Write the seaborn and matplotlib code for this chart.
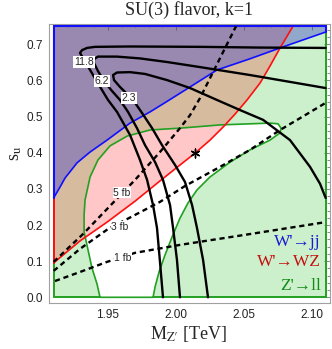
import numpy as np
import pandas as pd
import matplotlib
matplotlib.use("Agg")
import matplotlib.pyplot as plt
from matplotlib.ticker import MultipleLocator, FixedLocator, FixedFormatter
import seaborn as sns

# ---------------- data ----------------
X_MIN, X_MAX = 1.91, 2.11
S_MIN, S_MAX = 0.0, 0.75

# W' -> jj exclusion boundary (excluded above)
jj_x = [1.910, 1.9147, 1.9184, 1.9272, 1.9368, 1.9493, 1.9662, 1.9809, 1.9904,
        2.0103, 2.0301, 2.0544, 2.0765, 2.110]
jj_s = [0.275, 0.305, 0.330, 0.372, 0.402, 0.435, 0.482, 0.513, 0.535,
        0.582, 0.629, 0.660, 0.690, 0.734]

# W' -> WZ exclusion boundary (excluded to the upper left)
wz_x = [1.910, 1.9294, 1.9493, 1.9699, 1.9882, 2.0029, 2.0140, 2.0250, 2.0346,
        2.0434, 2.0522, 2.0618, 2.0691, 2.0765, 2.0860]
wz_s = [0.095, 0.156, 0.208, 0.266, 0.322, 0.366, 0.399, 0.435, 0.471,
        0.507, 0.546, 0.593, 0.640, 0.690, 0.750]

# Z' -> ll allowed island boundary (excluded outside)
ll_x = [1.9441, 1.9419, 1.9382, 1.9353, 1.9324, 1.9324, 1.9331, 1.9368, 1.9426,
        1.9515, 1.9640, 1.9809, 2.0029, 2.0324, 2.0544, 2.0691, 2.0750, 2.0772,
        2.0765, 2.0691, 2.0544, 2.0397, 2.0250, 2.0154, 2.0088, 2.0029, 1.9971,
        1.9919, 1.9875, 1.9846, 1.9831]
ll_s = [0.000, 0.037, 0.081, 0.131, 0.181, 0.228, 0.269, 0.333, 0.380,
        0.419, 0.446, 0.463, 0.468, 0.477, 0.480, 0.482, 0.480, 0.468,
        0.455, 0.435, 0.408, 0.374, 0.333, 0.297, 0.261, 0.219, 0.167,
        0.117, 0.070, 0.029, 0.000]

# chi^2 contours (solid black)
c118_x = [1.9904, 1.9882, 1.9860, 1.9831, 1.9787, 1.9735, 1.9662, 1.9566, 1.9500,
          1.9434, 1.9368, 1.9324, 1.9294, 1.9309, 1.9346, 1.9404, 1.9662, 2.0176,
          2.0618, 2.110]
c118_s = [0.000, 0.098, 0.192, 0.255, 0.325, 0.380, 0.449, 0.513, 0.546,
          0.587, 0.629, 0.657, 0.676, 0.684, 0.690, 0.693, 0.694, 0.693,
          0.691, 0.690]

c62_x = [2.0029, 2.0007, 1.9978, 1.9956, 1.9904, 1.9846, 1.9772, 1.9713, 1.9647,
         1.9588, 1.9529, 1.9471, 1.9426, 1.9397, 1.9397, 1.9426, 1.9566, 1.9735,
         1.9934, 2.0176, 2.0544, 2.0838, 2.110]
c62_s = [0.000, 0.103, 0.192, 0.255, 0.325, 0.374, 0.421, 0.468, 0.513,
         0.546, 0.571, 0.598, 0.626, 0.648, 0.659, 0.666, 0.666, 0.661,
         0.651, 0.637, 0.615, 0.596, 0.579]

c23_x = [2.0235, 2.0199, 2.0154, 2.0118, 2.0066, 1.9993, 1.9897, 1.9824, 1.9750,
         1.9699, 1.9647, 1.9588, 1.9544, 1.9537, 1.9566, 1.9662, 1.9772, 1.9934,
         2.0103, 2.0301, 2.0471, 2.0640, 2.0838, 2.0985, 2.1059, 2.110]
c23_s = [0.000, 0.103, 0.192, 0.255, 0.319, 0.366, 0.421, 0.468, 0.510,
         0.538, 0.560, 0.582, 0.601, 0.615, 0.622, 0.623, 0.618, 0.601,
         0.579, 0.546, 0.518, 0.491, 0.435, 0.361, 0.314, 0.275]

contour_labels = ["11.8", "6.2", "2.3"]
contour_label_x = [1.9324, 1.9456, 1.9654]
contour_label_s = [0.651, 0.598, 0.551]

# cross-section contours (dashed)
xs5_x = [1.910, 1.9316, 1.9515, 1.9699, 1.9882, 2.0029, 2.0103, 2.0176, 2.0272, 2.0353, 2.0441]
xs5_s = [0.098, 0.175, 0.253, 0.325, 0.402, 0.468, 0.504, 0.551, 0.623, 0.684, 0.750]
xs3_x = [1.910, 1.9294, 1.9500, 1.9699, 1.9882, 2.0066, 2.0324, 2.0544, 2.0765, 2.0949, 2.110]
xs3_s = [0.073, 0.134, 0.189, 0.228, 0.264, 0.308, 0.361, 0.408, 0.463, 0.504, 0.538]
xs1_x = [1.9110, 1.9294, 1.9493, 1.9699, 2.0029, 2.0544, 2.110]
xs1_s = [0.045, 0.070, 0.098, 0.123, 0.145, 0.175, 0.208]

xs_labels = ["5 fb", "3 fb", "1 fb"]
xs_label_x = [1.9603, 1.9588, 1.9610]
xs_label_s = [0.289, 0.195, 0.109]

star_x = [2.014]
star_s = [0.400]

legend_texts = ["W'\u2192jj", "W'\u2192WZ", "Z'\u2192ll"]
legend_s = [0.153, 0.098, 0.031]

x_ticks = [1.95, 2.00, 2.05, 2.10]
x_tick_labels = ["1.95", "2.00", "2.05", "2.10"]
y_ticks = [0.0, 0.1, 0.2, 0.3, 0.4, 0.5, 0.6, 0.7]
y_tick_labels = ["0.0", "0.1", "0.2", "0.3", "0.4", "0.5", "0.6", "0.7"]

# ---------------- style ----------------
sns.set_style("white")
plt.rcParams["font.family"] = ["Liberation Sans", "DejaVu Sans"]
plt.rcParams["mathtext.fontset"] = "stix"
SERIF = ["Liberation Serif", "DejaVu Serif"]

C_BLUE_LINE = "#1010ff"
C_RED_LINE = "#ff1010"
C_GREEN_LINE = "#22a022"

fig = plt.figure(figsize=(3.32, 3.49), dpi=100)
L, R, T, B = 49, 330, 23.5, 303
W, H = 332.0, 349.0
ax = fig.add_axes([L / W, 1 - B / H, (R - L) / W, (B - T) / H])
ax.set_xlim(1.9066, 2.1132)
ax.set_ylim(-0.0158, 0.7576)

# ---------------- filled regions ----------------
# Z'->ll excluded: rectangle minus island (island touches bottom edge)
g_x = list(ll_x) + [X_MAX, X_MAX, X_MIN, X_MIN]
g_s = list(ll_s) + [S_MIN, S_MAX, S_MAX, S_MIN]
ax.fill(g_x, g_s, color="#00b400", alpha=0.20, lw=0, zorder=1)

r_x = list(wz_x) + [X_MIN]
r_s = list(wz_s) + [S_MAX]
ax.fill(r_x, r_s, color="#ff0000", alpha=0.22, lw=0, zorder=2)

b_x = list(jj_x) + [X_MAX, X_MIN]
b_s = list(jj_s) + [S_MAX, S_MAX]
ax.fill(b_x, b_s, color="#3c3cc8", alpha=0.40, lw=0, zorder=3)

def line(x, y, color, lw, z, ls="-"):
    sns.lineplot(x=x, y=y, sort=False, estimator=None, ax=ax, color=color,
                 lw=lw, zorder=z, linestyle=ls, legend=False)

# region boundaries
line(list(ll_x) + [ll_x[0]], list(ll_s) + [ll_s[0]], C_GREEN_LINE, 1.2, 4)
line([X_MIN, X_MIN], [S_MIN, S_MAX], C_GREEN_LINE, 1.4, 4)
line([X_MAX, X_MAX], [S_MIN, S_MAX], C_GREEN_LINE, 1.4, 4)
line([X_MIN, ll_x[0]], [S_MIN, S_MIN], C_GREEN_LINE, 1.4, 4)
line([ll_x[-1], X_MAX], [S_MIN, S_MIN], C_GREEN_LINE, 1.4, 4)

line(wz_x, wz_s, C_RED_LINE, 1.2, 5)
line([X_MIN, X_MIN], [wz_s[0], S_MAX], C_RED_LINE, 1.4, 5)
line([X_MIN, wz_x[-1]], [S_MAX, S_MAX], C_RED_LINE, 1.4, 5)

line(jj_x, jj_s, C_BLUE_LINE, 1.2, 6)
line([X_MIN, X_MIN], [jj_s[0], S_MAX], C_BLUE_LINE, 1.5, 6)
line([X_MIN, X_MAX], [S_MAX, S_MAX], C_BLUE_LINE, 1.5, 6)
line([X_MAX, X_MAX], [jj_s[-1], S_MAX], C_BLUE_LINE, 1.5, 6)

# dashed cross-section lines
for xx, ss in [(xs5_x, xs5_s), (xs3_x, xs3_s), (xs1_x, xs1_s)]:
    line(xx, ss, "black", 1.7, 7, ls=(0, (2.2, 1.6)))

# solid chi^2 contours
for xx, ss in [(c118_x, c118_s), (c62_x, c62_s), (c23_x, c23_s)]:
    line(xx, ss, "black", 1.7, 8)

# labels on contours
for t, xx, ss in zip(contour_labels, contour_label_x, contour_label_s):
    ax.text(xx, ss, t, fontsize=7.5, ha="center", va="center", zorder=10,
            bbox=dict(boxstyle="square,pad=0.1", fc="white", ec="none"))
for t, xx, ss in zip(xs_labels, xs_label_x, xs_label_s):
    ax.text(xx, ss, t, fontsize=7.5, ha="center", va="center", zorder=10,
            bbox=dict(boxstyle="square,pad=0.05", fc="white", ec="none"))

# benchmark point
sns.scatterplot(x=star_x, y=star_s, marker=(6, 2, 0), s=40, color="black",
                linewidth=1.0, ax=ax, zorder=11, legend=False)

# legend texts
for t, ss, c in zip(legend_texts, legend_s, ["#1a1ad2", "#c41010", "#138a13"]):
    ax.text(2.1066, ss, t, fontsize=12.5, ha="right", va="center", color=c,
            family=SERIF, zorder=12)

# ---------------- axes styling ----------------
ax.xaxis.set_major_locator(FixedLocator(x_ticks))
ax.xaxis.set_major_formatter(FixedFormatter(x_tick_labels))
ax.yaxis.set_major_locator(FixedLocator(y_ticks))
ax.yaxis.set_major_formatter(FixedFormatter(y_tick_labels))
ax.xaxis.set_minor_locator(MultipleLocator(0.01))
ax.yaxis.set_minor_locator(MultipleLocator(0.02))
ax.tick_params(which="both", direction="in", top=True, right=True,
               color="#8a8a8a", width=0.7, labelsize=8.5, pad=4.5,
               labelcolor="#222222")
ax.tick_params(which="major", length=4)
ax.tick_params(which="minor", length=2.2)
for sp in ax.spines.values():
    sp.set_color("#a0a0a0")
    sp.set_linewidth(0.8)
ax.set_xlabel("")
ax.set_ylabel("")

fig.text(189 / W, 1 - 10 / H, "SU(3) flavor, k=1", ha="center", va="center",
         fontsize=13, family=SERIF)
fig.text(189 / W, 1 - 334 / H, "M$_{\\mathrm{Z\u2032}}$ [TeV]", ha="center",
         va="center", fontsize=13, family=SERIF)
fig.text(15 / W, 1 - 153 / H, r"s$_{\mathrm{u}}$", ha="center",
         va="center", fontsize=13, family=SERIF, rotation=90)

fig.savefig("out.png", dpi=100)
